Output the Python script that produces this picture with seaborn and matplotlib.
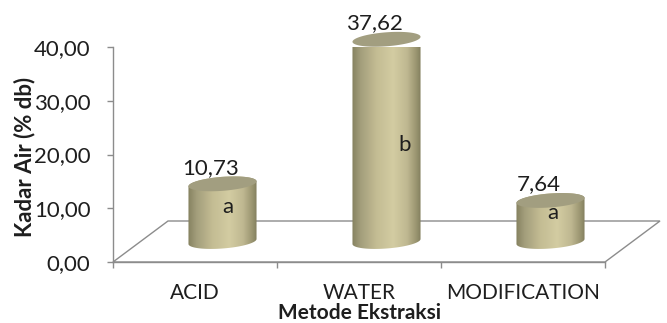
import numpy as np
import matplotlib
matplotlib.use("Agg")
import matplotlib.pyplot as plt
from matplotlib.path import Path
from matplotlib.patches import PathPatch, Polygon
from matplotlib.colors import LinearSegmentedColormap
import seaborn as sns

# Moisture content per extraction method
methods = ["ACID", "WATER", "MODIFICATION"]
moisture = [10.73, 37.62, 7.64]
groups = ["a", "b", "a"]
y_ticks = [0, 10, 20, 30, 40]

# where the significance letters sit (data y, horizontal nudge in px)
letter_y = [10.2, 21.8, 9.1]
letter_dx_px = [5, 18, 2]


def comma(v):
    return f"{v:.2f}".replace(".", ",")


sns.set_style("white")
plt.rcParams["font.family"] = ["Lato", "DejaVu Sans"]

TEXT = "#1e1e1e"
GRID = "#8c8c8c"
FS = 16
FS_X = 15
W, H = 667, 323
fig = plt.figure(figsize=(W / 100, H / 100), dpi=100)
ax = fig.add_axes([113 / W, 61 / H, 492 / W, 215 / H])

sns.barplot(x=methods, y=moisture, color="#c9c29a", width=0.415, ax=ax)
ax.set_xlim(-0.5, 2.5)
ax.set_ylim(0, 40)

bbox = ax.get_window_extent()
sx = bbox.width / 3.0      # px per category
sy = bbox.height / 40.0    # px per data unit

# depth of the 3-D floor
DX = 55 / sx
DY = 41 / sy

floor = Polygon([(-0.5, 0), (2.5, 0), (2.5 + DX, DY), (-0.5 + DX, DY)],
                closed=True, facecolor="white", edgecolor=GRID, lw=1.0,
                clip_on=False, zorder=1)
ax.add_patch(floor)

body_cmap = LinearSegmentedColormap.from_list(
    "cyl",
    [(0.0, "#85815f"), (0.12, "#a29d7b"), (0.35, "#c3bc93"),
     (0.6, "#d3cca2"), (0.8, "#bfb891"), (0.94, "#98936f"), (1.0, "#827e5e")])
grad = np.linspace(0, 1, 256).reshape(1, -1)

b = 7.0 / sy       # ellipse semi-minor axis
s = 2.5 / sy       # perspective tilt of the ellipses

bars = list(ax.patches)[:len(moisture)]
for i, p in enumerate(bars):
    x0 = p.get_x() + DX / 2
    w = p.get_width()
    h = p.get_height()
    p.set_visible(False)
    cx = x0 + w / 2
    a = w / 2
    yb = DY / 2
    yt = yb + h

    t_front = np.linspace(np.pi, 2 * np.pi, 60)
    t_back = np.linspace(0, np.pi, 60)
    bx = cx + a * np.cos(t_front)
    by = yb + b * np.sin(t_front) + s * np.cos(t_front)
    tx = cx + a * np.cos(t_back)
    ty = yt + b * np.sin(t_back) + s * np.cos(t_back)
    verts = np.vstack([np.column_stack([bx, by]), np.column_stack([tx, ty]),
                       [[bx[0], by[0]]]])
    codes = [Path.MOVETO] + [Path.LINETO] * (len(verts) - 2) + [Path.CLOSEPOLY]
    body = PathPatch(Path(verts, codes), facecolor="none", edgecolor="none",
                     transform=ax.transData, zorder=3, clip_on=False)
    ax.add_patch(body)
    im = ax.imshow(grad, cmap=body_cmap, aspect="auto", origin="lower",
                   extent=[cx - a, cx + a, yb - b - s, yt + b + s],
                   interpolation="bilinear", zorder=3)
    im.set_clip_path(body)

    t = np.linspace(0, 2 * np.pi, 120)
    top = np.column_stack([cx + a * np.cos(t),
                           yt + b * np.sin(t) + s * np.cos(t)])
    ax.add_patch(Polygon(top, closed=True, facecolor="#a29e80",
                         edgecolor="none", zorder=4, clip_on=False))

    ax.annotate(comma(h), xy=(cx, yt), xytext=(-12 * 0.72, 16 * 0.72),
                textcoords="offset points", ha="center", va="center",
                fontsize=FS, color=TEXT, zorder=6, annotation_clip=False)
    ax.text(cx + letter_dx_px[i] / sx, letter_y[i], groups[i],
            ha="center", va="center", fontsize=FS, color=TEXT, zorder=6)

ax.set_xlim(-0.5, 2.5)
ax.set_ylim(0, 40)

for side in ("top", "right"):
    ax.spines[side].set_visible(False)
for side in ("left", "bottom"):
    ax.spines[side].set_color(GRID)
    ax.spines[side].set_linewidth(1.0)
    ax.spines[side].set_zorder(2)

ax.set_yticks(y_ticks)
ax.set_yticklabels([comma(v) for v in y_ticks])
ax.set_xticks(range(len(methods)))
ax.set_xticklabels(methods)
ax.set_xticks([-0.5, 0.5, 1.5, 2.5], minor=True)
ax.tick_params(axis="y", left=True, length=4.3, width=1.0, color=GRID,
               pad=12, labelsize=FS, labelcolor=TEXT)
ax.tick_params(axis="x", which="major", bottom=True, length=0, pad=15,
               labelsize=FS_X, labelcolor=TEXT)
ax.tick_params(axis="x", which="minor", bottom=True, length=4.3, width=1.0,
               color=GRID)

ax.set_ylabel("Kadar Air (% db)", fontsize=FS, fontweight="bold", color=TEXT,
              va="center")
ax.yaxis.set_label_coords(-0.179, 0.488)
ax.set_xlabel("Metode Ekstraksi", fontsize=FS_X, fontweight="bold",
              color=TEXT, va="center")
ax.xaxis.set_label_coords(0.502, -0.235)

fig.savefig("out.png", dpi=100)
